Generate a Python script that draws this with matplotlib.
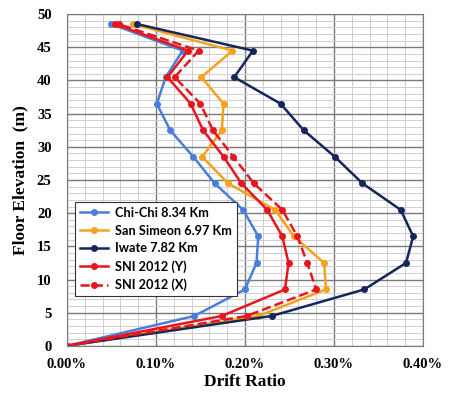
import numpy as np
import matplotlib
matplotlib.use("Agg")
import matplotlib.pyplot as plt
from matplotlib.ticker import MultipleLocator, FuncFormatter

# floor elevations (m)
elev = [0, 4.5, 8.5, 12.5, 16.5, 20.5, 24.5, 28.5, 32.5, 36.5, 40.5, 44.5, 48.5]

# drift ratio (%) per floor
chichi = [0, 0.143, 0.200, 0.213, 0.215, 0.198, 0.166, 0.142, 0.116, 0.101, 0.111, 0.130, 0.050]
sansimeon = [0, 0.215, 0.291, 0.289, 0.255, 0.234, 0.181, 0.152, 0.174, 0.176, 0.151, 0.186, 0.074]
iwate = [0, 0.230, 0.334, 0.381, 0.389, 0.375, 0.332, 0.301, 0.266, 0.240, 0.188, 0.209, 0.079]
sni_y = [0, 0.174, 0.245, 0.249, 0.242, 0.225, 0.196, 0.176, 0.153, 0.139, 0.113, 0.136, 0.054]
sni_x = [0, 0.202, 0.280, 0.270, 0.259, 0.242, 0.210, 0.187, 0.164, 0.150, 0.121, 0.148, 0.058]

series = [
    ("Chi-Chi 8.34 Km", chichi, "#4a7edc", "-"),
    ("San Simeon 6.97 Km", sansimeon, "#f7a21b", "-"),
    ("Iwate 7.82 Km", iwate, "#14265a", "-"),
    ("SNI 2012 (Y)", sni_y, "#e8161c", "-"),
    ("SNI 2012 (X)", sni_x, "#e8161c", "--"),
]

fig = plt.figure(figsize=(4.49, 3.93), dpi=100)
ax = fig.add_axes([0.149, 0.120, 0.793, 0.844])

for name, vals, col, ls in series:
    ax.plot(vals, elev, ls, color=col, lw=1.8, marker="o", ms=4, label=name)

ax.set_xlim(0, 0.4)
ax.set_ylim(0, 50)
ax.xaxis.set_major_locator(MultipleLocator(0.1))
ax.xaxis.set_minor_locator(MultipleLocator(0.02))
ax.yaxis.set_major_locator(MultipleLocator(5))
ax.yaxis.set_minor_locator(MultipleLocator(1))
ax.xaxis.set_major_formatter(FuncFormatter(lambda v, p: "%.2f%%" % v))
ax.grid(which="major", color="#7a7a7a", lw=1.0)
ax.grid(which="minor", color="#cfcfcf", lw=0.7)
ax.set_axisbelow(True)
ax.tick_params(which="both", length=0)
ax.tick_params(axis="x", pad=9)
ax.tick_params(axis="y", pad=11)
for s in ax.spines.values():
    s.set_color("#7a7a7a")

for lab in ax.get_xticklabels() + ax.get_yticklabels():
    lab.set_fontfamily("Liberation Serif")
    lab.set_fontweight("bold")
    lab.set_fontsize(10.5)

ax.set_xlabel("Drift Ratio", fontfamily="Liberation Serif", fontweight="bold", fontsize=12.5, labelpad=2)
ax.set_ylabel("Floor Elevation  (m)", fontfamily="Liberation Serif", fontweight="bold", fontsize=12.5, labelpad=6)

leg = ax.legend(loc="lower left", bbox_to_anchor=(0.005, 0.13), prop={"family": "Lato", "weight": "bold", "size": 9.2},
                frameon=True, fancybox=False, framealpha=1, edgecolor="#333333",
                handlelength=2.2, borderpad=0.4, labelspacing=0.45, handletextpad=0.5)
leg.get_frame().set_linewidth(0.8)

fig.savefig("out.png", dpi=100)
